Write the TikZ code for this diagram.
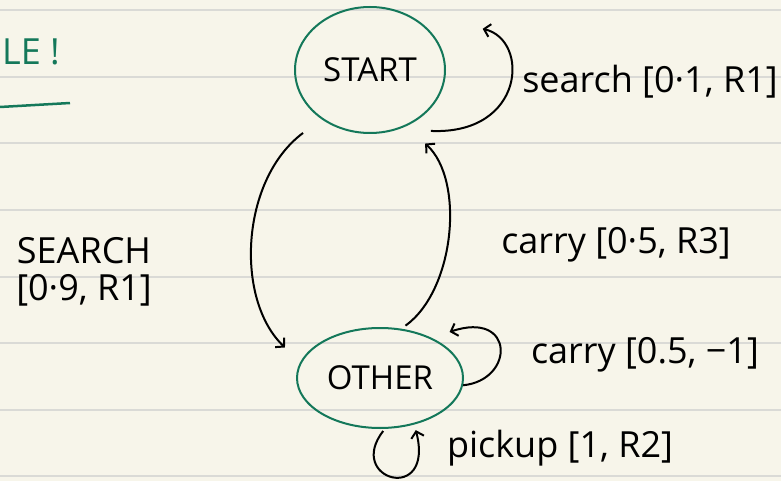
\documentclass[tikz,border=0pt]{standalone}
\usepackage{fontspec}
\setmainfont{Open Sans}
\usetikzlibrary{arrows.meta,shapes.geometric}
\definecolor{paper}{RGB}{247,245,234}
\definecolor{rulegray}{RGB}{218,218,214}
\definecolor{ink}{RGB}{20,120,90}

\begin{document}
\begin{tikzpicture}[x=1pt,y=-1pt,
	state/.style={ellipse, draw=ink, line width=2pt, inner sep=0pt, font=\fontsize{33}{36}\selectfont},
	edge/.style={line width=2pt, -{Straight Barb[length=6pt,width=13pt]}},
	lbl/.style={inner sep=0pt, font=\fontsize{36}{37}\selectfont}]
	\useasboundingbox[fill=paper] (0,0) rectangle (781,481);
	\foreach \y in {10,77,143,210,277,343,410,476}
		\draw[rulegray, line width=2pt] (0,\y) -- (781,\y);
	\node[state, minimum width=150, minimum height=126] (start) at (370,70) {START};
	\node[state, minimum width=166, minimum height=100] (other) at (380,378) {OTHER};
	\draw[edge] ([shift={(12,12)}]start.-45) .. controls (525,135) and (530,40) .. ([shift={(50,-5)}]start.30);
	\draw[edge] ([shift={(-18,14)}]start.-135) .. controls (240,180) and (235,300) .. ([shift={(-40,8)}]other.145);
	\draw[edge] ([shift={(12,-2)}]other.75) .. controls (455,290) and (465,180) .. ([shift={(22,16)}]start.-60);
	\draw[edge] (other.-5) .. controls (515,380) and (515,310) .. ([shift={(3,-15)}]other.25);
	\draw[edge] ([shift={(5,2)}]other.-92) .. controls (345,480) and (435,505) .. ([shift={(8,4)}]other.-60);
	\node[lbl] (searchlbl) at (650,82) {search [0·1, R1]};
	\node[lbl] (carrylbl) at (616,245) {carry [0·5, R3]};
	\node[lbl] (carryself) at (645,355) {carry [0.5, −1]};
	\node[lbl] (pickuplbl) at (560,448) {pickup [1, R2]};
	\node[lbl, align=center] (searchnine) at (84,272) {SEARCH\\{[0·9, R1]}};
	\node[lbl, text=ink, anchor=west] (title) at (2,52) {LE !};
	\draw[ink, line width=2.5pt] (0,107) -- (70,103);
\end{tikzpicture}
\end{document}
